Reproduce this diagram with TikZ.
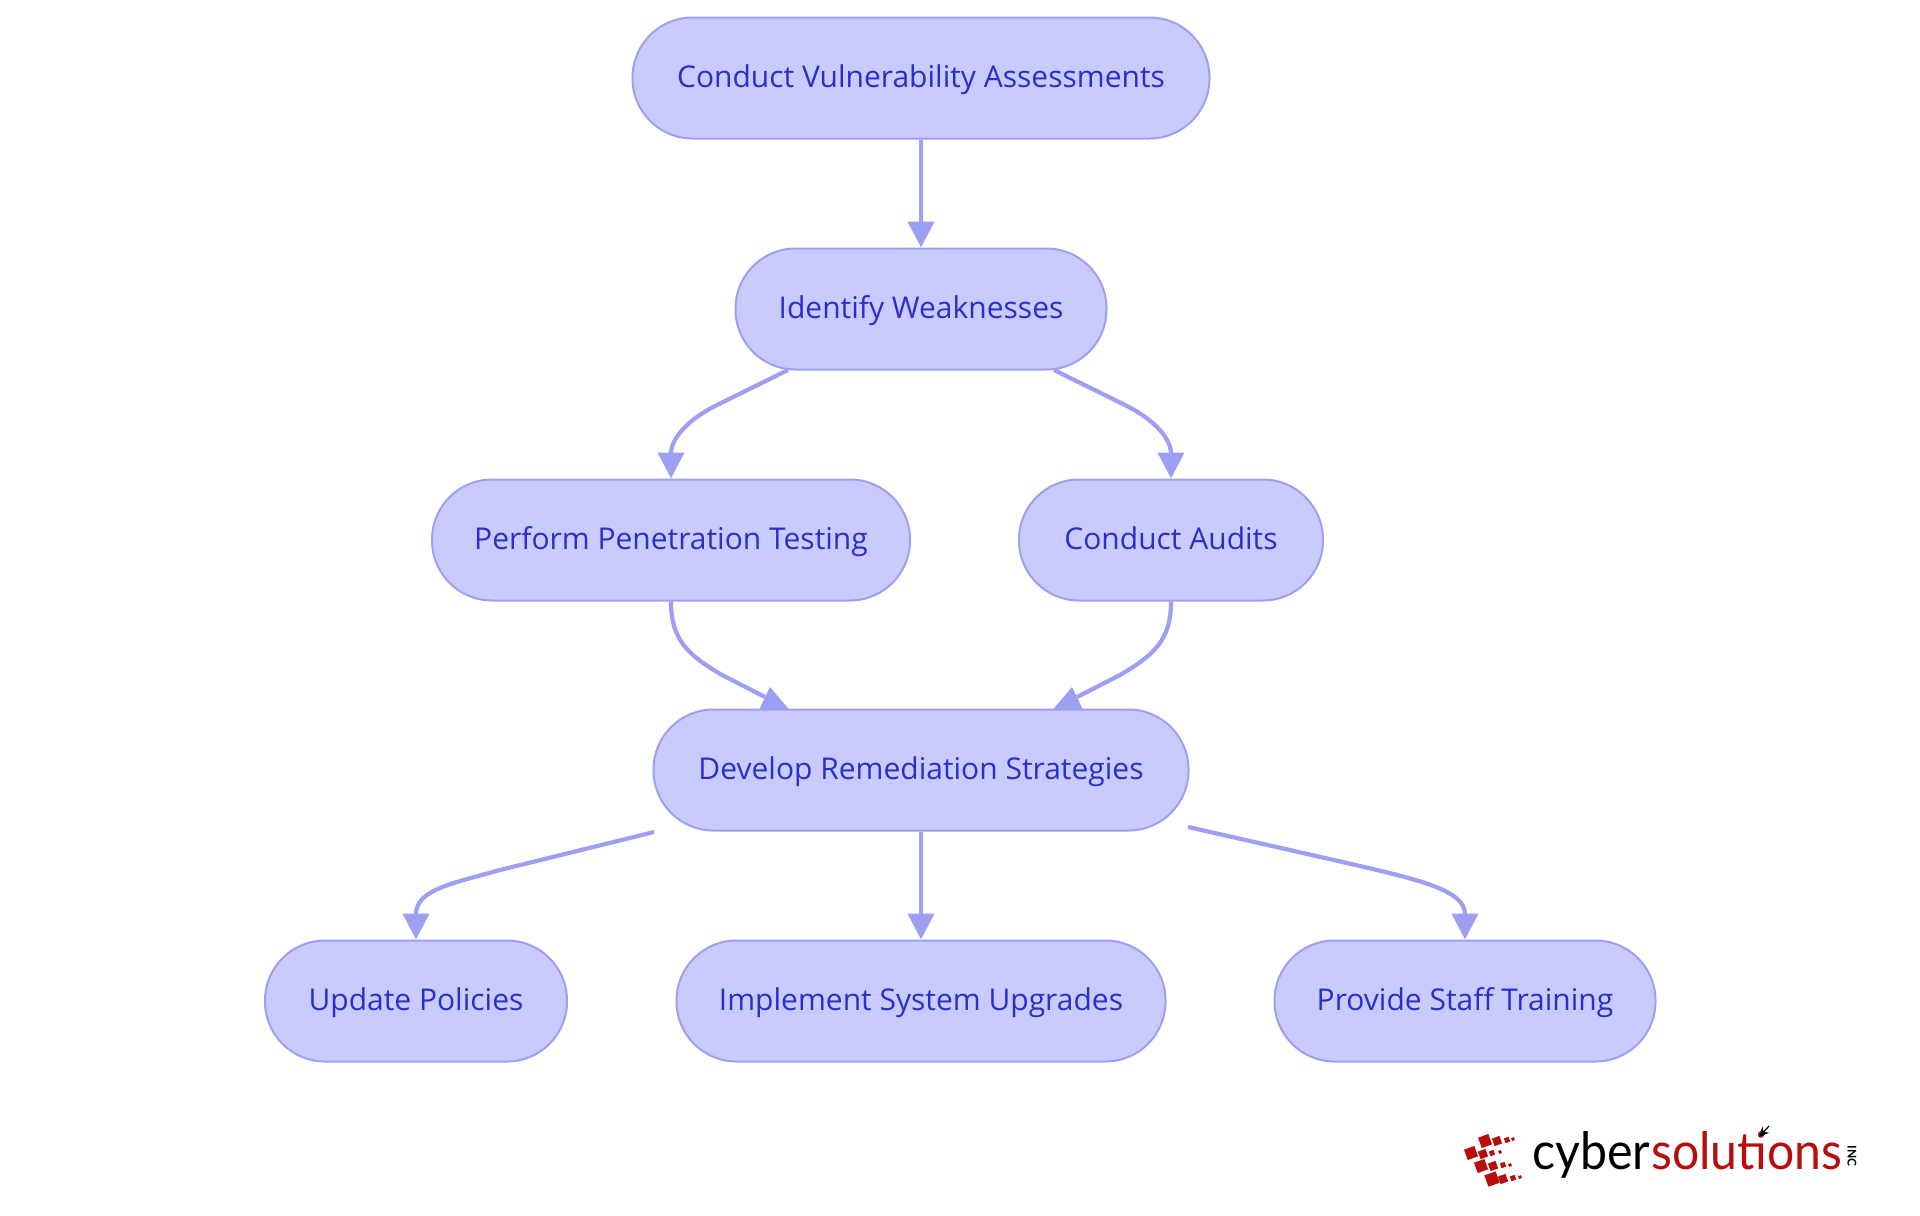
\documentclass[tikz,border=0pt]{standalone}
\usepackage{fontspec}
\usetikzlibrary{arrows.meta,backgrounds,calc}
\newfontfamily\nodefont{Open Sans}
\newfontfamily\logofont{Lato}
\newfontfamily\logobold{Lato}
\definecolor{nodefill}{HTML}{C9CBFF}
\definecolor{nodeline}{HTML}{9DA0F2}
\definecolor{nodetext}{HTML}{2B2FC9}
\definecolor{logored}{HTML}{B80D0D}
\tikzset{
  x=0.5pt,y=-0.5pt,
  flow/.style={draw=nodeline,fill=nodefill,line width=1pt,rounded corners=30pt,inner sep=0pt,
    text height=34.75pt,text depth=25.75pt,text=nodetext,font=\nodefont\fontsize{15}{18}\selectfont},
  edge/.style={draw=nodeline,line width=2.1pt},
  tipped/.style={edge,-{Triangle[length=13pt,width=13pt,fill=nodeline]}},
  headfill/.style={fill=nodeline,draw=none},
  chip/.style={fill=logored,draw=none},
}
\newcommand{\chipat}[3]{\fill[chip,rotate around={20:(#1,#2)}] ($(#1,#2)+(-#3/2,-#3/2)$) rectangle ($(#1,#2)+(#3/2,#3/2)$);}
\begin{document}
\begin{tikzpicture}
\useasboundingbox (0,0) rectangle (1920,1215);
\node[flow,minimum width=288.5pt] (a) at (921,78) {Conduct Vulnerability Assessments};
\node[flow,minimum width=185.5pt] (b) at (921,309) {Identify Weaknesses};
\node[flow,minimum width=239pt] (c) at (671,540) {Perform Penetration Testing};
\node[flow,minimum width=152pt] (d) at (1171,540) {Conduct Audits};
\node[flow,minimum width=267.5pt] (e) at (921,770) {Develop Remediation Strategies};
\node[flow,minimum width=151pt] (f) at (416,1001) {Update Policies};
\node[flow,minimum width=244.5pt] (g) at (921,1001) {Implement System Upgrades};
\node[flow,minimum width=190.5pt] (h) at (1465,1001) {Provide Staff Training};
\coordinate (bl) at (788,370);
\coordinate (br) at (1054,370);
\coordinate (ce) at (765,697);
\coordinate (de) at (1077,697);
\coordinate (el) at (654,832);
\coordinate (er) at (1188,827);
\begin{scope}[on background layer]
\fill[white] (0,0) rectangle (1920,1215);
\draw[tipped] (a.south) -- (b.north);
\draw[tipped] (bl) -- (717,405) .. controls (685,421) and (671,440) .. (c.north);
\draw[tipped] (br) -- (1125,405) .. controls (1157,421) and (1171,440) .. (d.north);
\draw[edge] (c.south) .. controls (671,640) and (688,655) .. (722,675) -- (ce);
\draw[edge] (d.south) .. controls (1171,640) and (1154,655) .. (1120,675) -- (de);
\fill[headfill] (770,687) -- (757,714) -- (793,714) -- cycle;
\fill[headfill] (1072,687) -- (1085,714) -- (1049,714) -- cycle;
\draw[tipped] (e.south) -- (g.north);
\draw[tipped] (el) -- (500,870) .. controls (450,884) and (416,890) .. (f.north);
\draw[tipped] (er) -- (1347,863) .. controls (1420,880) and (1465,890) .. (h.north);
\end{scope}
% logo
\chipat{1485}{1141}{11}\chipat{1497}{1141}{8}\chipat{1507}{1140}{5}\chipat{1513}{1139}{3}
\chipat{1471}{1153}{11}\chipat{1483}{1154}{8}\chipat{1492}{1153}{5}\chipat{1500}{1152}{3}
\chipat{1481}{1166}{11}\chipat{1493}{1166}{8}\chipat{1503}{1165}{5}\chipat{1510}{1165}{3}
\chipat{1492}{1179}{12}\chipat{1503}{1179}{8}\chipat{1513}{1178}{5}\chipat{1520}{1177}{3}
\node[anchor=base west,inner sep=0pt,font=\logofont\fontsize{28}{30}\selectfont,text=black] (lc) at (1532,1169) {\resizebox{59pt}{19pt}{cyber}};
\node[anchor=base west,inner sep=0pt,font=\logofont\fontsize{28}{30}\selectfont,text=logored] (ls) at (1651,1169) {\resizebox{95.5pt}{19pt}{solutions}};
\node[rotate=-90,inner sep=0pt,font=\logobold\bfseries\fontsize{6}{7}\selectfont,text=black] (li) at (1852,1156) {INC};
\draw[black,line width=0.6pt,-{Stealth[length=5pt,width=4.5pt]}] (1769,1126) -- (1759,1137);
\end{tikzpicture}
\end{document}
